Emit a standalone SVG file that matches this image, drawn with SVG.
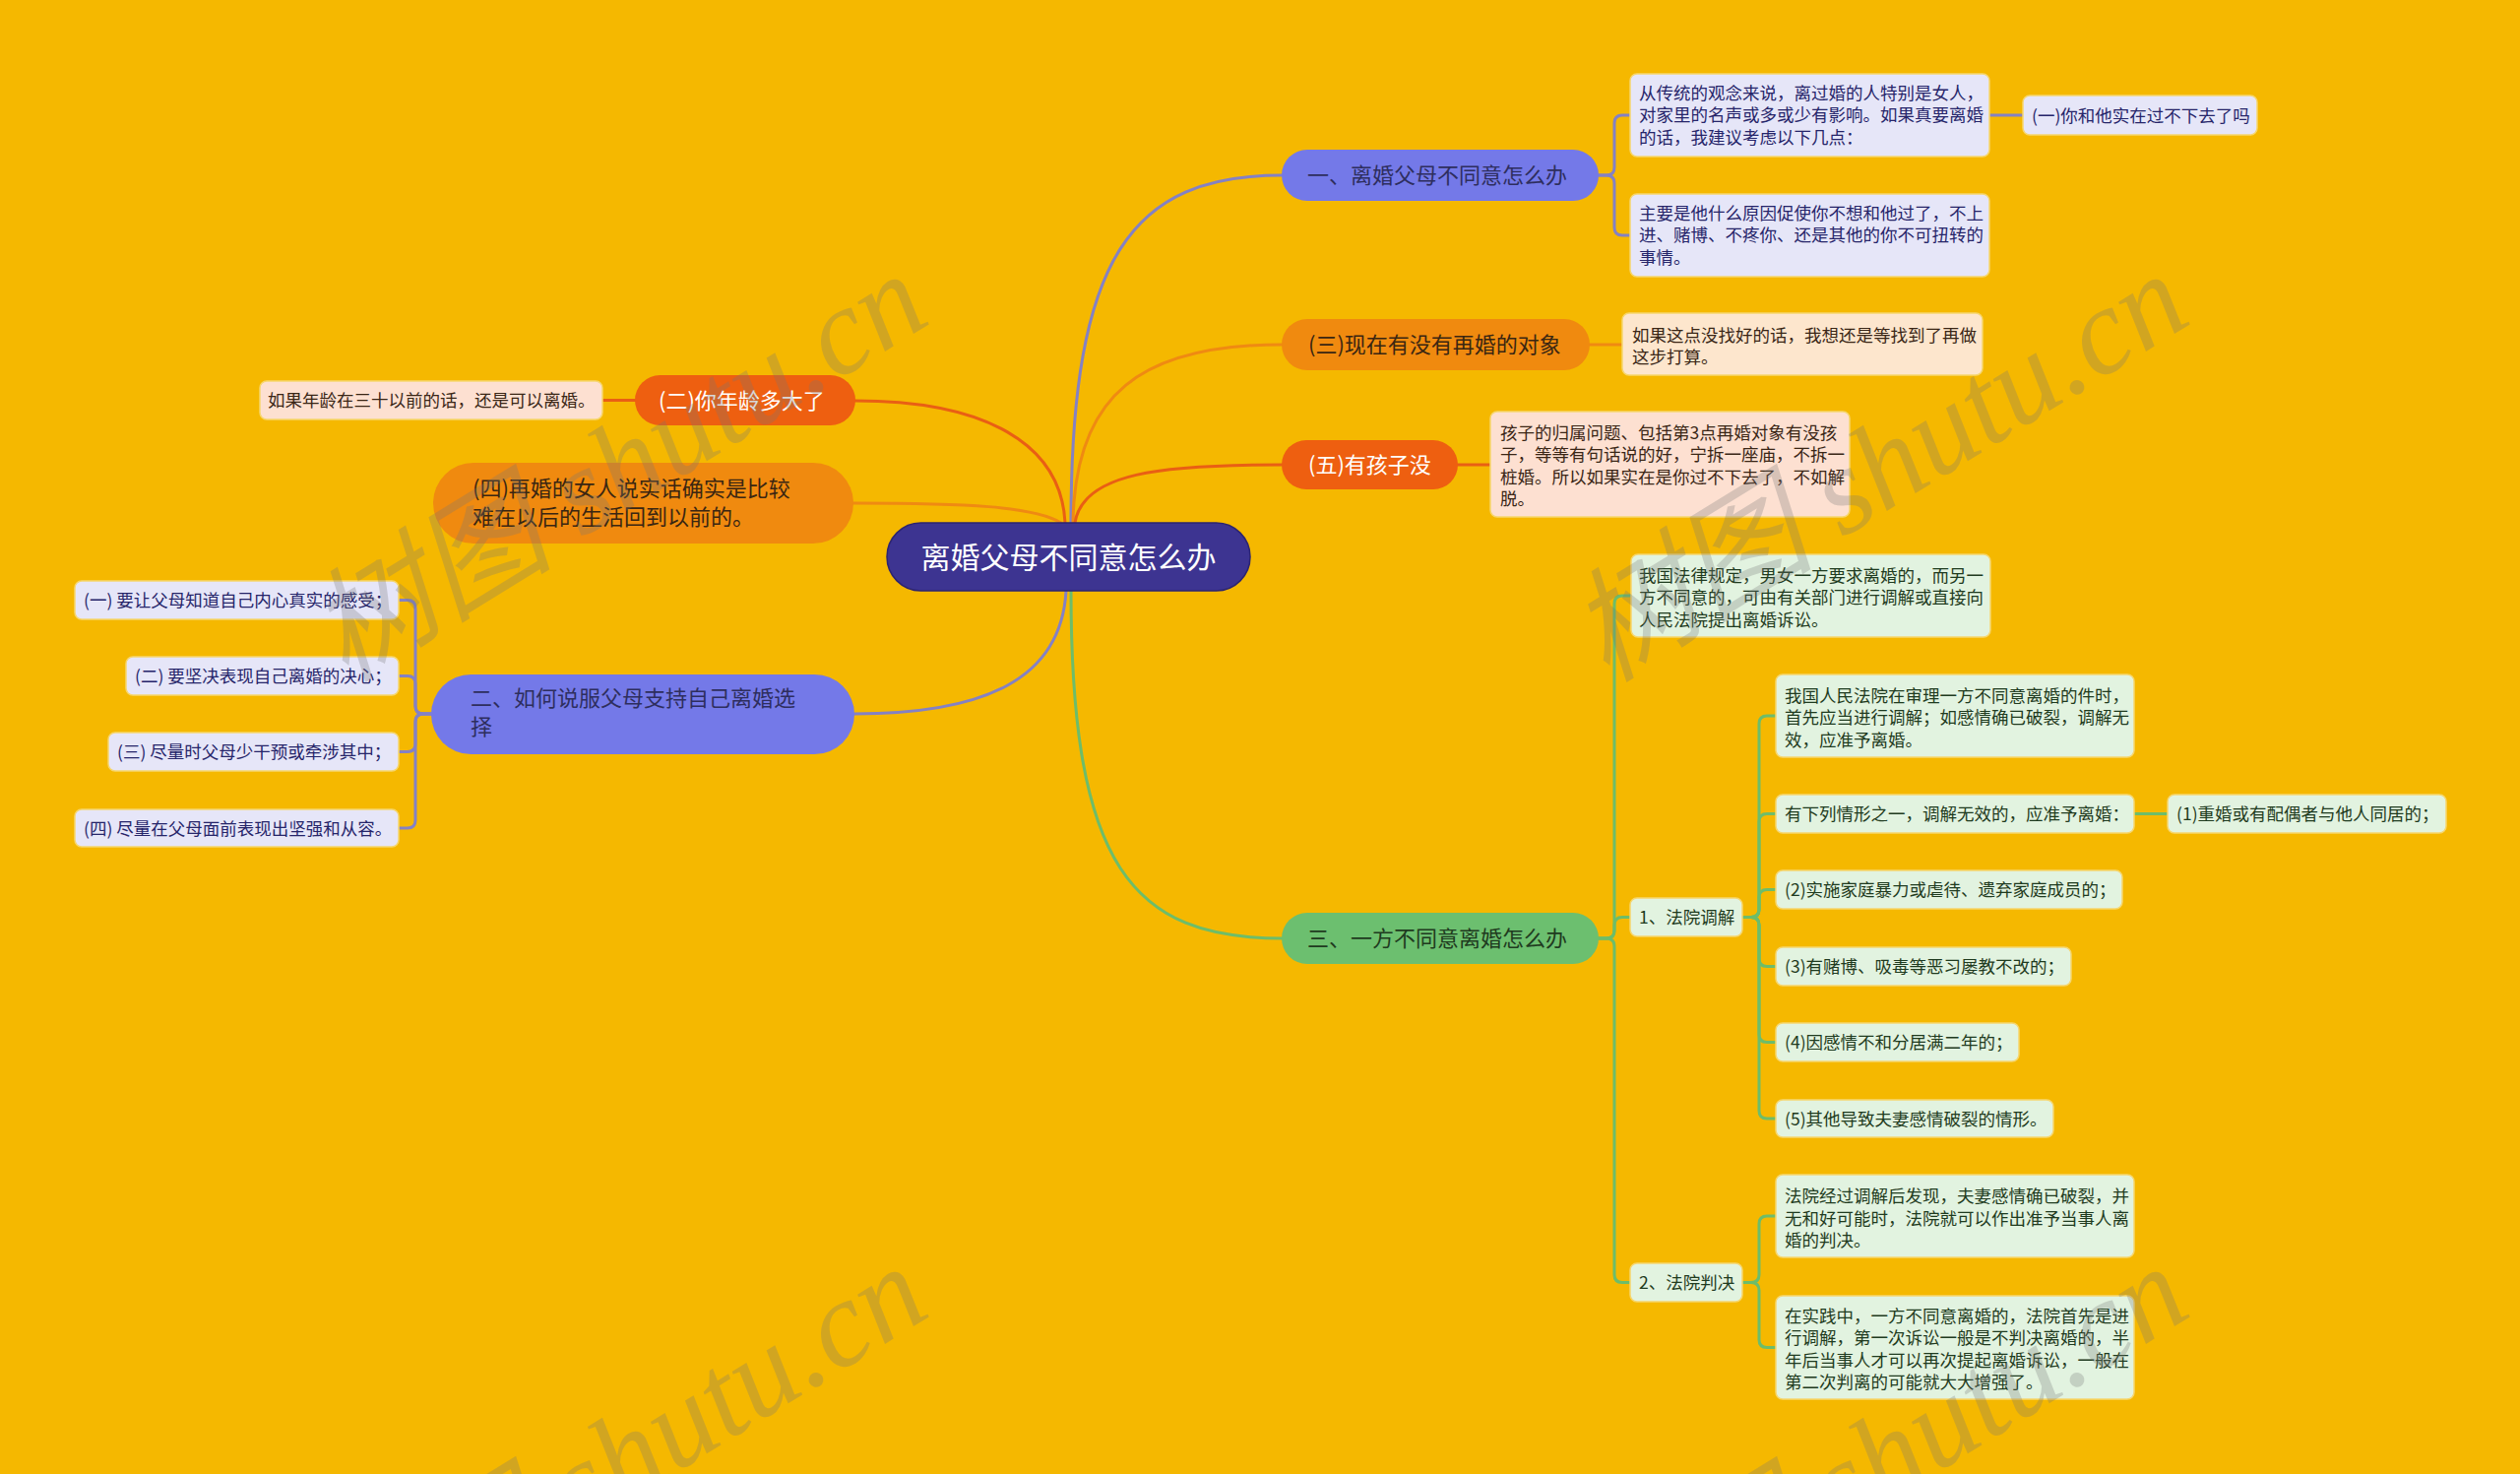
<svg xmlns="http://www.w3.org/2000/svg" width="2560" height="1497" viewBox="0 0 2560 1497">
<style>
text{font-family:"Noto Sans CJK SC","Noto Sans",sans-serif;}
.leaf{font-size:17.5px;}
.br{font-size:22px;}
.lp rect{fill:#e6e6f8;stroke:#f6d66e;stroke-width:1.5;}
.lp text{fill:#26256a;}
.lg rect{fill:#e2f3e0;stroke:#f6d66e;stroke-width:1.5;}
.lg text{fill:#1f3b20;}
.lo rect{fill:#fde6cd;stroke:#f6d66e;stroke-width:1.5;}
.lo text{fill:#3a2616;}
.lr rect{fill:#fde0d1;stroke:#f6d66e;stroke-width:1.5;}
.lr text{fill:#3a2616;}
.bp rect{fill:#7479e8;}
.bp text{fill:#2e2e5e;}
.bo rect{fill:#f08a0f;}
.bo text{fill:#3a2612;}
.brd rect{fill:#ee5f10;}
.brd text{fill:#ffffff;}
.bg rect{fill:#6cbf6f;}
.bg text{fill:#1f3b20;}
.c path{fill:none;stroke-width:3;stroke-linecap:round;}
.cp{stroke:#8481c4;}
.co{stroke:#ef8a12;}
.cr{stroke:#e95f14;}
.cg{stroke:#6dbd6a;}
.wm{font-family:"Liberation Serif","Noto Sans CJK SC",serif;font-style:italic;font-size:125px;fill:#777777;opacity:0.28;}
</style>
<rect x="0" y="0" width="2560" height="1497" fill="#f5b800"/>

<g id="connectors" class="c">
<path class="cp" d="M1088,531 C1088,260 1150,178 1302,178"/>
<path class="co" d="M1090,531 C1092,400 1160,350 1302,350"/>
<path class="cr" d="M1092,531 C1100,480 1180,472 1302,472"/>
<path class="cr" d="M869,407 C1000,407 1078,450 1082,531"/>
<path class="co" d="M867,511 C980,511 1050,514 1078,531"/>
<path class="cp" d="M1083,600 C1078,690 1000,725 868,725"/>
<path class="cg" d="M1088,600 C1088,880 1150,953 1302,953"/>

<path class="cp" d="M1624,178 H1632 Q1640,178 1640,170 V125 Q1640,117 1648,117 H1656"/>
<path class="cp" d="M1624,178 H1632 Q1640,178 1640,186 V231 Q1640,239 1648,239 H1656"/>
<path class="cp" d="M2021,117 H2055"/>
<path class="co" d="M1615,350 H1648"/>
<path class="cr" d="M1481,472 H1514"/>
<path class="cr" d="M645,406.5 H612"/>

<path class="cp" d="M438,725 H430 Q422,725 422,717 V617.5 Q422,609.5 414,609.5 H405"/>
<path class="cp" d="M438,725 H430 Q422,725 422,717 V694.5 Q422,686.5 414,686.5 H405"/>
<path class="cp" d="M438,725 H430 Q422,725 422,733 V755.5 Q422,763.5 414,763.5 H405"/>
<path class="cp" d="M438,725 H430 Q422,725 422,733 V833 Q422,841 414,841 H405"/>

<path class="cg" d="M1624,953 H1632 Q1640,953 1640,945 V613 Q1640,605 1648,605 H1657"/>
<path class="cg" d="M1624,953 H1632 Q1640,953 1640,945 V939.5 Q1640,931.5 1648,931.5 H1656"/>
<path class="cg" d="M1624,953 H1632 Q1640,953 1640,961 V1294.5 Q1640,1302.5 1648,1302.5 H1656"/>

<path class="cg" d="M1770,931.5 H1779 Q1787,931.5 1787,923.5 V735 Q1787,727 1795,727 H1804"/>
<path class="cg" d="M1770,931.5 H1779 Q1787,931.5 1787,923.5 V834.5 Q1787,826.5 1795,826.5 H1804"/>
<path class="cg" d="M1770,931.5 H1779 Q1787,931.5 1787,923.5 V911.5 Q1787,903.5 1795,903.5 H1804"/>
<path class="cg" d="M1770,931.5 H1779 Q1787,931.5 1787,939.5 V973.5 Q1787,981.5 1795,981.5 H1804"/>
<path class="cg" d="M1770,931.5 H1779 Q1787,931.5 1787,939.5 V1050.5 Q1787,1058.5 1795,1058.5 H1804"/>
<path class="cg" d="M1770,931.5 H1779 Q1787,931.5 1787,939.5 V1128 Q1787,1136 1795,1136 H1804"/>
<path class="cg" d="M2168,826.5 H2202"/>
<path class="cg" d="M1770,1302.5 H1779 Q1787,1302.5 1787,1294.5 V1243 Q1787,1235 1795,1235 H1804"/>
<path class="cg" d="M1770,1302.5 H1779 Q1787,1302.5 1787,1310.5 V1360.5 Q1787,1368.5 1795,1368.5 H1804"/>
</g>

<g id="root">
<rect x="901" y="531" width="369" height="69" rx="34.5" fill="#3d3491" stroke="#2c2470" stroke-width="1.5"/>
<text x="1085.5" y="577" font-size="30" fill="#ffffff" text-anchor="middle">离婚父母不同意怎么办</text>
</g>

<g id="b1" class="bp br"><rect x="1302" y="152" width="322" height="52" rx="26"/><text x="1328" y="186.4">一、离婚父母不同意怎么办</text></g>
<g id="b1-a" class="lp leaf"><rect x="1656" y="75" width="365" height="84" rx="7"/>
<text x="1665" y="100.6">从传统的观念来说，离过婚的人特别是女人，</text>
<text x="1665" y="123.1">对家里的名声或多或少有影响。如果真要离婚</text>
<text x="1665" y="145.6">的话，我建议考虑以下几点：</text></g>
<g id="b1-a1" class="lp leaf"><rect x="2055" y="97" width="238" height="40" rx="7"/><text x="2064" y="123.6">(一)你和他实在过不下去了吗</text></g>
<g id="b1-b" class="lp leaf"><rect x="1656" y="197" width="365" height="84" rx="7"/>
<text x="1665" y="222.5">主要是他什么原因促使你不想和他过了，不上</text>
<text x="1665" y="245">进、赌博、不疼你、还是其他的你不可扭转的</text>
<text x="1665" y="267.5">事情。</text></g>

<g id="b3" class="bo br"><rect x="1302" y="324" width="313" height="52" rx="26"/><text x="1329" y="358.4">(三)现在有没有再婚的对象</text></g>
<g id="b3-a" class="lo leaf"><rect x="1648" y="318" width="366" height="63" rx="7"/>
<text x="1658" y="346.9">如果这点没找好的话，我想还是等找到了再做</text>
<text x="1658" y="369.4">这步打算。</text></g>

<g id="b5" class="brd br"><rect x="1302" y="447" width="179" height="50" rx="25"/><text x="1329" y="480.4">(五)有孩子没</text></g>
<g id="b5-a" class="lr leaf"><rect x="1514" y="418" width="365" height="107" rx="7"/>
<text x="1524" y="445.5">孩子的归属问题、包括第3点再婚对象有没孩</text>
<text x="1524" y="468">子，等等有句话说的好，宁拆一座庙，不拆一</text>
<text x="1524" y="490.5">桩婚。所以如果实在是你过不下去了，不如解</text>
<text x="1524" y="513">脱。</text></g>

<g id="b2" class="brd br"><rect x="645" y="381" width="224" height="51" rx="25.5"/><text x="669" y="415">(二)你年龄多大了</text></g>
<g id="b2-a" class="lr leaf"><rect x="264" y="387" width="348" height="39" rx="7"/><text x="272" y="413.1">如果年龄在三十以前的话，还是可以离婚。</text></g>

<g id="b4" class="bo br"><rect x="440" y="470" width="427" height="82" rx="41"/>
<text x="480" y="503.5">(四)再婚的女人说实话确实是比较</text>
<text x="480" y="532.5">难在以后的生活回到以前的。</text></g>

<g id="s2" class="bp br"><rect x="438" y="685" width="430" height="81" rx="40.5"/>
<text x="478" y="717">二、如何说服父母支持自己离婚选</text>
<text x="478" y="746">择</text></g>
<g id="s2-1" class="lp leaf"><rect x="76" y="590" width="329" height="39" rx="7"/><text x="85" y="616.1">(一) 要让父母知道自己内心真实的感受；</text></g>
<g id="s2-2" class="lp leaf"><rect x="128" y="667" width="277" height="39" rx="7"/><text x="137" y="693.1">(二) 要坚决表现自己离婚的决心；</text></g>
<g id="s2-3" class="lp leaf"><rect x="110" y="744" width="295" height="39" rx="7"/><text x="119" y="770.1">(三) 尽量时父母少干预或牵涉其中；</text></g>
<g id="s2-4" class="lp leaf"><rect x="76" y="822" width="329" height="38" rx="7"/><text x="85" y="847.6">(四) 尽量在父母面前表现出坚强和从容。</text></g>

<g id="s3" class="bg br"><rect x="1302" y="927" width="322" height="52" rx="26"/><text x="1328" y="961.4">三、一方不同意离婚怎么办</text></g>
<g id="s3-0" class="lg leaf"><rect x="1657" y="563" width="365" height="84" rx="7"/>
<text x="1665" y="590.6">我国法律规定，男女一方要求离婚的，而另一</text>
<text x="1665" y="613.1">方不同意的，可由有关部门进行调解或直接向</text>
<text x="1665" y="635.6">人民法院提出离婚诉讼。</text></g>
<g id="s3-1" class="lg leaf"><rect x="1656" y="912" width="114" height="39" rx="7"/><text x="1665" y="938.1">1、法院调解</text></g>
<g id="s3-1a" class="lg leaf"><rect x="1804" y="685" width="364" height="84" rx="7"/>
<text x="1813" y="712.6">我国人民法院在审理一方不同意离婚的件时，</text>
<text x="1813" y="735.1">首先应当进行调解；如感情确已破裂，调解无</text>
<text x="1813" y="757.6">效，应准予离婚。</text></g>
<g id="s3-1b" class="lg leaf"><rect x="1804" y="807" width="364" height="39" rx="7"/><text x="1813" y="833.1">有下列情形之一，调解无效的，应准予离婚：</text></g>
<g id="s3-1b1" class="lg leaf"><rect x="2202" y="807" width="283" height="39" rx="7"/><text x="2211" y="833.1">(1)重婚或有配偶者与他人同居的；</text></g>
<g id="s3-1c" class="lg leaf"><rect x="1804" y="884" width="352" height="39" rx="7"/><text x="1813" y="910.1">(2)实施家庭暴力或虐待、遗弃家庭成员的；</text></g>
<g id="s3-1d" class="lg leaf"><rect x="1804" y="962" width="300" height="39" rx="7"/><text x="1813" y="988.1">(3)有赌博、吸毒等恶习屡教不改的；</text></g>
<g id="s3-1e" class="lg leaf"><rect x="1804" y="1039" width="247" height="39" rx="7"/><text x="1813" y="1065.1">(4)因感情不和分居满二年的；</text></g>
<g id="s3-1f" class="lg leaf"><rect x="1804" y="1117" width="282" height="38" rx="7"/><text x="1813" y="1142.6">(5)其他导致夫妻感情破裂的情形。</text></g>
<g id="s3-2" class="lg leaf"><rect x="1656" y="1283" width="114" height="39" rx="7"/><text x="1665" y="1309.1">2、法院判决</text></g>
<g id="s3-2a" class="lg leaf"><rect x="1804" y="1193" width="364" height="84" rx="7"/>
<text x="1813" y="1221.1">法院经过调解后发现，夫妻感情确已破裂，并</text>
<text x="1813" y="1243.6">无和好可能时，法院就可以作出准予当事人离</text>
<text x="1813" y="1266.1">婚的判决。</text></g>
<g id="s3-2b" class="lg leaf"><rect x="1804" y="1316" width="364" height="105" rx="7"/>
<text x="1813" y="1342.9">在实践中，一方不同意离婚的，法院首先是进</text>
<text x="1813" y="1365.4">行调解，第一次诉讼一般是不判决离婚的，半</text>
<text x="1813" y="1387.9">年后当事人才可以再次提起离婚诉讼，一般在</text>
<text x="1813" y="1410.4">第二次判离的可能就大大增强了。</text></g>

<g id="watermark">
<text class="wm" x="351" y="694" transform="rotate(-31.6 351 694)">树图 shutu.cn</text>
<text class="wm" x="1632" y="694" transform="rotate(-31.6 1632 694)">树图 shutu.cn</text>
<text class="wm" x="351" y="1702" transform="rotate(-31.6 351 1702)">树图 shutu.cn</text>
<text class="wm" x="1632" y="1702" transform="rotate(-31.6 1632 1702)">树图 shutu.cn</text>
</g>
</svg>
